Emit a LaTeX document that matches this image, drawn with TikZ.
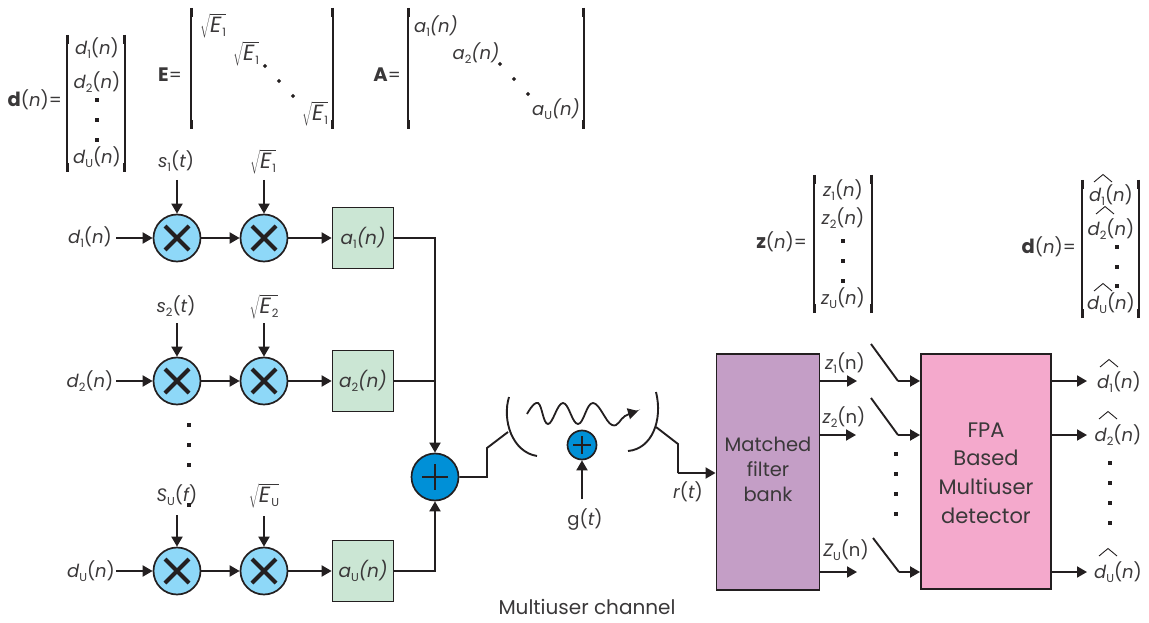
\documentclass[tikz,border=0pt]{standalone}
\usepackage{fontspec}
\setmainfont{Poppins}
\usetikzlibrary{arrows.meta}
\definecolor{ink}{HTML}{231F20}
\definecolor{txt}{HTML}{3A3839}
\definecolor{mulblue}{HTML}{8ED8F8}
\definecolor{addblue}{HTML}{0090D7}
\definecolor{boxgreen}{HTML}{CBE6D4}
\definecolor{boxpurple}{HTML}{C49EC6}
\definecolor{boxpink}{HTML}{F4A9CC}
\newcommand{\sbs}[1]{\raisebox{-3.5pt}{\upshape\fontsize{11.5}{11.5}\selectfont #1}}
\newcommand{\fn}[3]{{\itshape #1}\sbs{#2}({\itshape #3})}
\newcommand{\fnup}[3]{{\itshape #1}\sbs{#2}(#3)}
\newcommand{\fni}[3]{{\itshape #1\sbs{#2}(#3)}}
\newcommand{\rt}[1]{$\sqrt{\mbox{\fontsize{22}{24}\selectfont\itshape E\hspace{1pt}}\mbox{\sbs{#1}}}$}
\newcommand{\bignm}[1]{{\fontsize{19.5}{20}\selectfont\textbf{#1}}}
\newcommand{\brk}[4]{%
  \draw[brkline] (#1,#3) -- (#1,#4);
  \draw[brkline] (#2,#3) -- (#2,#4);
  \draw[brkend] (#1+.6,#3) -- (#1+.6,#3+9);
  \draw[brkend] (#1+.6,#4) -- (#1+.6,#4-9);
  \draw[brkend] (#2-.6,#3) -- (#2-.6,#3+9);
  \draw[brkend] (#2-.6,#4) -- (#2-.6,#4-9);
}
\newcommand{\sq}[2]{\fill[ink] (#1-1.7,#2-1.7) rectangle (#1+1.7,#2+1.7);}
\newcommand{\dm}[2]{\fill[ink] (#1,#2-2.2) -- (#1+2.2,#2) -- (#1,#2+2.2) -- (#1-2.2,#2) -- cycle;}
\newcommand{\hatm}[2]{\draw[ink,line width=.9pt] (#1-9,#2+4) -- (#1,#2-3.5) -- (#1+9,#2+4);}
\tikzset{
  x=1pt,y=-1pt,
  lbl/.style={inner sep=0pt,text=txt,font=\fontsize{18}{20}\selectfont},
  big/.style={inner sep=0pt,text=txt,align=center,font=\fontsize{19.5}{25}\selectfont},
  bigger/.style={inner sep=0pt,text=txt,align=center,font=\fontsize{21}{28.7}\selectfont},
  sig/.style={draw=ink,line width=1.9pt},
  arr/.style={sig,-{Triangle[length=10pt,width=11pt]}},
  brkline/.style={draw=ink,line width=1.3pt},
  brkend/.style={draw=ink,line width=3.2pt},
  mul/.style={circle,draw=ink,line width=1.7pt,fill=mulblue,minimum size=47pt,inner sep=0pt},
  add/.style={circle,draw=ink,line width=1.7pt,fill=addblue,inner sep=0pt},
  gbox/.style={rectangle,draw=ink,line width=1.7pt,fill=boxgreen,inner sep=0pt,minimum width=61pt,minimum height=61pt,text=txt,font=\fontsize{18.5}{20}\selectfont},
  bbox/.style={rectangle,draw=ink,line width=1.9pt,inner sep=0pt},
  crossl/.style={draw=ink,line width=4pt},
  plusl/.style={draw=ink,line width=1.6pt},
  curve/.style={draw=ink,line width=1.9pt}
}
\begin{document}
\begin{tikzpicture}
\useasboundingbox (0,0) rectangle (1149,623);
% top matrices
\node[lbl,anchor=east] (dvec) at (62,100) {\bignm{d}({\itshape n})=};
\brk{67}{125}{35}{172}
\node[lbl] (dv1) at (97,48) {\fn{d}{1}{n}};
\node[lbl] (dv2) at (97,82) {\fn{d}{2}{n}};
\sq{97}{100}\sq{97}{120}\sq{97}{140}
\node[lbl] (dv3) at (97,157) {\fn{d}{U}{n}};
\node[lbl,anchor=east] (emat) at (182,75) {\bignm{E}=};
\brk{191}{333}{8}{129}
\node[lbl] (e1) at (213,26) {\rt{1}};
\node[lbl] (e2) at (246,54) {\rt{1}};
\node[lbl] (e3) at (315,114) {\rt{1}};
\dm{265}{66}\dm{279}{81}\dm{293}{96}
\node[lbl,anchor=east] (amat) at (401,75) {\bignm{A}=};
\brk{408}{584}{8}{129}
\node[lbl] (a1m) at (436,26) {\fni{a}{1}{n}};
\node[lbl] (a2m) at (476,53) {\fni{a}{2}{n}};
\node[lbl] (a3m) at (556,109) {\fni{a}{U}{n}};
\dm{500}{64}\dm{514}{79}\dm{528}{94}
% transmit rows
\node[mul] (m11) at (177,238) {};
\node[mul] (m12) at (264,238) {};
\node[gbox] (b1) at (363,238) {\fni{a}{1}{n}};
\node[mul] (m21) at (177,381) {};
\node[mul] (m22) at (264,381) {};
\node[gbox] (b2) at (363,381) {\fni{a}{2}{n}};
\node[mul] (m31) at (177,571) {};
\node[mul] (m32) at (264,571) {};
\node[gbox] (b3) at (363,571) {\fni{a}{U}{n}};
\foreach \c in {m11,m12,m21,m22,m31,m32}{
  \draw[crossl] (\c.center) ++(-12,-12) -- ++(24,24);
  \draw[crossl] (\c.center) ++(-12,12) -- ++(24,-24);
}
\node[lbl] (in1) at (90,237) {\fn{d}{1}{n}};
\node[lbl] (in2) at (90,381) {\fn{d}{2}{n}};
\node[lbl] (in3) at (91,571) {\fn{d}{U}{n}};
\coordinate (in1e) at (116,238);
\coordinate (in2e) at (116,381);
\coordinate (in3e) at (116,571);
\node[lbl] (s1) at (176,161) {\fn{s}{1}{t}};
\node[lbl] (s2) at (176,306) {\fn{s}{2}{t}};
\node[lbl] (s3) at (177,495) {\fn{S}{U}{f}};
\node[lbl] (r1) at (263,162) {\rt{1}};
\node[lbl] (r2) at (264,307) {\rt{2}};
\node[lbl] (r3) at (264,496) {\rt{U}};
\coordinate (s1e) at (177,180); \coordinate (r1e) at (264,180);
\coordinate (s2e) at (177,323); \coordinate (r2e) at (264,323);
\coordinate (s3e) at (177,515); \coordinate (r3e) at (264,516);
\foreach \i in {1,2,3}{
  \draw[arr] (in\i e) -- (m\i 1);
  \draw[arr] (m\i 1) -- (m\i 2);
  \draw[arr] (m\i 2) -- (b\i);
  \draw[arr] (s\i e) -- (m\i 1);
  \draw[arr] (r\i e) -- (m\i 2);
}
\sq{189}{425}\sq{189}{445}\sq{189}{465}\sq{189}{505}
% adder
\node[add,minimum size=47pt] (adder) at (435,477) {};
\draw[plusl,line width=1.9pt] (adder.center) ++(-13,0) -- ++(26,0);
\draw[plusl,line width=1.9pt] (adder.center) ++(0,-13) -- ++(0,26);
\draw[arr] (b1.east) -| (adder.north);
\draw[arr] (b3.east) -| (adder.south);
\draw[sig] (b2.east) -- (b2.east -| adder.north);
% channel
\coordinate (chl) at (508,432);
\coordinate (chr) at (656,427);
\draw[curve] (509,397) .. controls (502,420) and (512,452) .. (537,456);
\draw[curve] (656,392) .. controls (663,420) and (652,449) .. (628,451);
\draw[sig] (adder.east) -- (487,477) -- (487,448) -- (chl);
\node[bbox,fill=boxpurple,minimum width=103pt,minimum height=236pt] (mf) at (768,472) {};
\node[big] (mft) at (768,469) {Matched\\filter\\bank};
\draw[sig] (chr) -- (678,444) -- (678,473);
\coordinate (rj) at (678,473);
\draw[arr] (rj) -- (mf.west |- rj);
\draw[line width=1.8pt,draw=ink,-{Triangle[length=10pt,width=11pt]}]
  plot[smooth,tension=.7] coordinates {(527,414) (538,403) (548,424) (563,403) (578,424) (593,403) (612,425) (625,416) (638,411)};
\node[add,minimum size=29pt] (ch) at (582,445) {};
\draw[plusl] (ch.center) ++(-9,0) -- ++(18,0);
\draw[plusl] (ch.center) ++(0,-9) -- ++(0,18);
\coordinate (ge) at (582,499);
\draw[arr] (ge) -- (ch);
\node[lbl] (g) at (585,520) {g({\itshape t})};
\node[lbl] (rt) at (688,492) {{\itshape r}({\itshape t})};
\node[lbl,font=\fontsize{20}{22}\selectfont] (mc) at (587,607) {Multiuser channel};
% detector
\node[bbox,fill=boxpink,minimum width=130pt,minimum height=235pt] (fpa) at (986,471.5) {};
\node[bigger] (fpat) at (986,473) {FPA\\Based\\Multiuser\\detector};
\node[lbl] (z1) at (845,363) {\fnup{z}{1}{n}};
\node[lbl] (z2) at (844,417) {\fnup{z}{2}{n}};
\node[lbl] (z3) at (846,550) {\fnup{Z}{U}{n}};
\coordinate (z1e) at (857,381); \coordinate (z2e) at (856,435); \coordinate (z3e) at (857,572);
\draw[arr] (mf.east |- z1e) -- (z1e);
\draw[arr] (mf.east |- z2e) -- (z2e);
\draw[arr] (mf.east |- z3e) -- (z3e);
\coordinate (w1a) at (871,344); \coordinate (w1b) at (898,381);
\coordinate (w2a) at (871,398); \coordinate (w2b) at (898,435);
\coordinate (w3a) at (873,538); \coordinate (w3b) at (899,572);
\foreach \i in {1,2,3}{
  \draw[sig] (w\i a) -- (w\i b);
  \draw[arr] (w\i b) -- (fpa.west |- w\i b);
}
\sq{896}{454}\sq{896}{474}\sq{896}{494}\sq{896}{514}
\coordinate (o1) at (1087,381); \coordinate (o2) at (1087,435); \coordinate (o3) at (1087,572);
\draw[arr] (fpa.east |- o1) -- (o1);
\draw[arr] (fpa.east |- o2) -- (o2);
\draw[arr] (fpa.east |- o3) -- (o3);
\node[lbl] (h1) at (1119,382) {\fn{d}{1}{n}};
\node[lbl] (h2) at (1118,435) {\fn{d}{2}{n}};
\node[lbl] (h3) at (1118,572) {\fn{d}{U}{n}};
\hatm{1109}{363}\hatm{1108}{415}\hatm{1108}{552}
\sq{1110}{463}\sq{1110}{483}\sq{1110}{503}\sq{1110}{523}
% z vector
\node[lbl,anchor=east] (zvec) at (807,242) {\bignm{z}({\itshape n})=};
\brk{814}{872}{175}{313}
\node[lbl] (zv1) at (843,190) {\fn{z}{1}{n}};
\node[lbl] (zv2) at (843,218) {\fn{z}{2}{n}};
\sq{843}{241}\sq{843}{261}\sq{843}{281}
\node[lbl] (zv3) at (843,298) {\fn{z}{U}{n}};
% d hat vector
\node[lbl,anchor=east] (hvec) at (1076,247) {\bignm{d}({\itshape n})=};
\brk{1082}{1139}{180}{318}
\node[lbl] (hv1) at (1111,195) {\fn{d}{1}{n}};
\node[lbl] (hv2) at (1111,229) {\fn{d}{2}{n}};
\sq{1117}{247}\sq{1117}{267}\sq{1117}{286}
\node[lbl] (hv3) at (1111,303) {\fn{d}{U}{n}};
\hatm{1103}{178}\hatm{1105}{210}\hatm{1103}{287}
\end{tikzpicture}
\end{document}
